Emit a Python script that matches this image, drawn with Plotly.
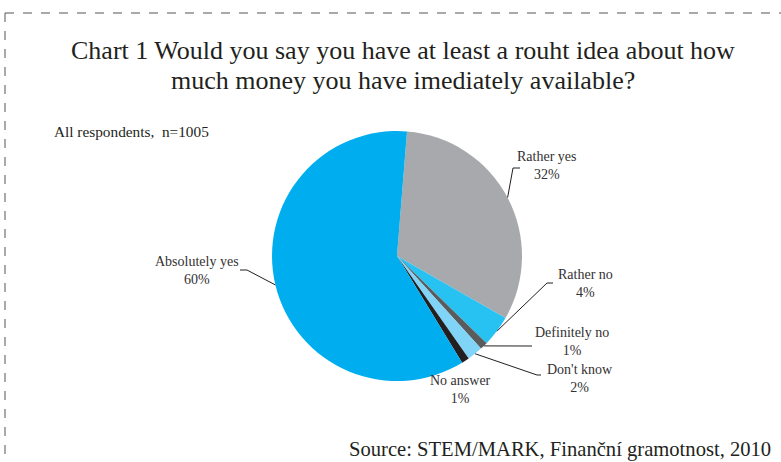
import math
import plotly.graph_objects as go

# Survey answers, clockwise from the top
categories = ["Rather yes", "Rather no", "Definitely no", "Don't know", "No answer", "Absolutely yes"]
shares = [32, 4, 1, 2, 1, 60]
colors = ["#A7A9AC", "#27C2F2", "#5A5B5D", "#80D4F7", "#231F20", "#00AEEF"]

title_lines = ["Chart 1 Would you say you have at least a rouht idea about how",
               "much money you have imediately available?"]
note_text = "All respondents,  n=1005"
source_text = "Source: STEM/MARK, Finanční gramotnost, 2010"

W, H = 781, 462
CX, CY, R = 397, 256, 125      # pie centre and radius in pixels
ROTATION = 4.6                 # start angle of the first slice, degrees clockwise from 12 o'clock

SERIF = "Liberation Serif, DejaVu Serif, serif"
TEXT_COLOR = "#333132"

fig = go.Figure()

fig.add_trace(go.Pie(
    labels=categories,
    values=shares,
    sort=False,
    direction="clockwise",
    rotation=ROTATION,
    marker=dict(colors=colors, line=dict(width=0)),
    textinfo="none",
    hoverinfo="label+percent",
    showlegend=False,
    domain=dict(x=[(CX - R) / W, (CX + R) / W],
                y=[(H - CY - R) / H, (H - CY + R) / H]),
))

# slice mid-angles -> anchor points on the rim
total = sum(shares)
rim = {}
cum = 0
for name, v in zip(categories, shares):
    ang = math.radians(ROTATION + 360 * (cum + v / 2) / total)
    rim[name] = (CX + R * math.sin(ang), CY - R * math.cos(ang))
    cum += v

# label placement: (label block centre x, centre y, elbow points of the leader line)
label_layout = {
    "Absolutely yes": (197, 270, [(240, 270), (247, 270)]),
    "Rather yes":     (546, 165, [(520, 168), (513, 168)]),
    "Rather no":      (585, 283, [(553, 283), (547, 283)]),
    "Definitely no":  (572, 341, [(532, 346)]),
    "Don't know":     (580, 378, [(541, 375), (537, 375)]),
    "No answer":      (460, 389, []),
}

for name, v in zip(categories, shares):
    xc, yc, elbow = label_layout[name]
    fig.add_annotation(x=xc, y=yc, text=f"{name}<br>{v}%", showarrow=False,
                       xref="x", yref="y", align="center",
                       font=dict(family=SERIF, size=14, color=TEXT_COLOR))
    if elbow:
        pts = elbow + [rim[name]]
        fig.add_trace(go.Scatter(
            x=[p[0] for p in pts], y=[p[1] for p in pts],
            mode="lines", line=dict(color="#231F20", width=1),
            hoverinfo="skip", showlegend=False,
        ))

for i, line in enumerate(title_lines):
    fig.add_annotation(x=W / 2 + 12, y=50 + 30 * i, text=line, showarrow=False,
                       xref="x", yref="y",
                       font=dict(family=SERIF, size=26, color="#231F20"))
fig.add_annotation(x=52, y=131, text=note_text, showarrow=False, xref="x", yref="y",
                   xanchor="left", font=dict(family=SERIF, size=15.3, color="#231F20"))
fig.add_annotation(x=773, y=449, text=source_text, showarrow=False, xref="x", yref="y",
                   xanchor="right", font=dict(family=SERIF, size=20.6, color="#231F20"))

# dashed frame (top and left edges)
frame = dict(color="#555555", width=1, dash="dash")
fig.add_shape(type="line", x0=5, y0=13, x1=W, y1=13, xref="x", yref="y", line=frame)
fig.add_shape(type="line", x0=5, y0=13, x1=5, y1=H, xref="x", yref="y", line=frame)

fig.update_layout(
    width=W, height=H,
    margin=dict(l=0, r=0, t=0, b=0),
    paper_bgcolor="white", plot_bgcolor="rgba(0,0,0,0)",
    xaxis=dict(range=[0, W], visible=False, fixedrange=True),
    yaxis=dict(range=[H, 0], visible=False, fixedrange=True),
)

fig.write_html("out.html")
